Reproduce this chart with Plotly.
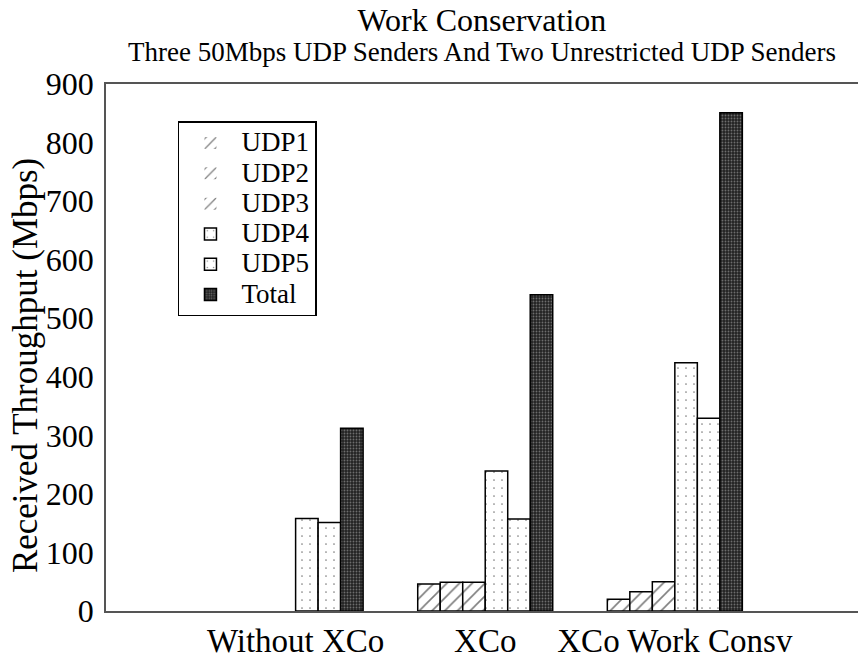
import plotly.graph_objects as go

# Scenario groups on the x axis
groups = ["Without XCo", "XCo", "XCo Work Consv"]
group_pos = [0, 1, 2]

# Received throughput per sender (Mbps)
udp1 = [0, 46, 20]
udp2 = [0, 49, 33]
udp3 = [0, 49, 50]
udp4 = [158, 239, 424]
udp5 = [151, 157, 329]
total = [312, 540, 851]

y_ticks = [0, 100, 200, 300, 400, 500, 600, 700, 800, 900]

FONT = "Liberation Serif"

hatch = dict(shape="/", fgcolor="black", bgcolor="white", size=9, solidity=0.18)
dots = dict(shape=".", fgcolor="black", bgcolor="white", size=8, solidity=0.035)
dense = dict(shape=".", fgcolor="#b8b8b8", size=3, solidity=0.3)

series = [
    ("UDP1", udp1, "white", hatch),
    ("UDP2", udp2, "white", hatch),
    ("UDP3", udp3, "white", hatch),
    ("UDP4", udp4, "white", dots),
    ("UDP5", udp5, "white", dots),
    ("Total", total, "#222222", dense),
]

fig = go.Figure()
for name, vals, color, pattern in series:
    # zero-valued bars get no outline so they stay invisible
    outline = [0 if v == 0 else 1.5 for v in vals]
    fig.add_trace(go.Bar(
        name=f"<span style='font-size:27px'>{name}</span>",
        x=group_pos,
        y=vals,
        marker=dict(color=color, pattern=pattern,
                    line=dict(color="black", width=outline)),
    ))

fig.update_layout(
    width=858,
    height=659,
    barmode="group",
    bargap=0.288,
    bargroupgap=0,
    plot_bgcolor="white",
    paper_bgcolor="white",
    font=dict(family=FONT, color="black", size=30),
    margin=dict(l=106, r=0, t=84, b=37),
    title=dict(
        text="Work Conservation",
        font=dict(family=FONT, size=32, color="black"),
        x=0.5616, xanchor="center",
        y=1 - 9 / 659, yanchor="top", yref="container",
        pad=dict(t=0, b=0),
    ),
    annotations=[
        dict(
            text="Three 50Mbps UDP Senders And Two Unrestricted UDP Senders",
            font=dict(family=FONT, size=27, color="black"),
            xref="paper", yref="paper",
            x=0.5, xanchor="center",
            y=(622 - 51) / 538, yanchor="middle",
            showarrow=False,
        ),
        dict(
            text="Received Throughput (Mbps)",
            font=dict(family=FONT, size=35, color="black"),
            textangle=-90,
            xref="paper", yref="paper",
            x=(25 - 106) / 752, xanchor="center",
            y=(622 - 372) / 538, yanchor="middle",
            showarrow=False,
        ),
    ],
    legend=dict(
        x=0.0957, y=0.929, xanchor="left", yanchor="top",
        bgcolor="white", bordercolor="black", borderwidth=1.5,
        font=dict(family=FONT, size=21, color="black"),
        itemwidth=52,
        traceorder="normal",
    ),
    showlegend=True,
)

fig.update_xaxes(
    range=[-1.0, 2.966],
    tickvals=group_pos,
    ticktext=groups,
    ticks="",
    showgrid=False,
    zeroline=False,
    showline=True, linecolor="#555555", linewidth=1.5,
    mirror=True,
    tickfont=dict(family=FONT, size=33),
)
fig.update_yaxes(
    range=[0, 900],
    tickvals=y_ticks,
    ticks="",
    showgrid=False,
    zeroline=False,
    showline=True, linecolor="#555555", linewidth=1.5,
    tickfont=dict(family=FONT, size=32),
    ticklabelstandoff=4,
)

fig.write_html("out.html")
